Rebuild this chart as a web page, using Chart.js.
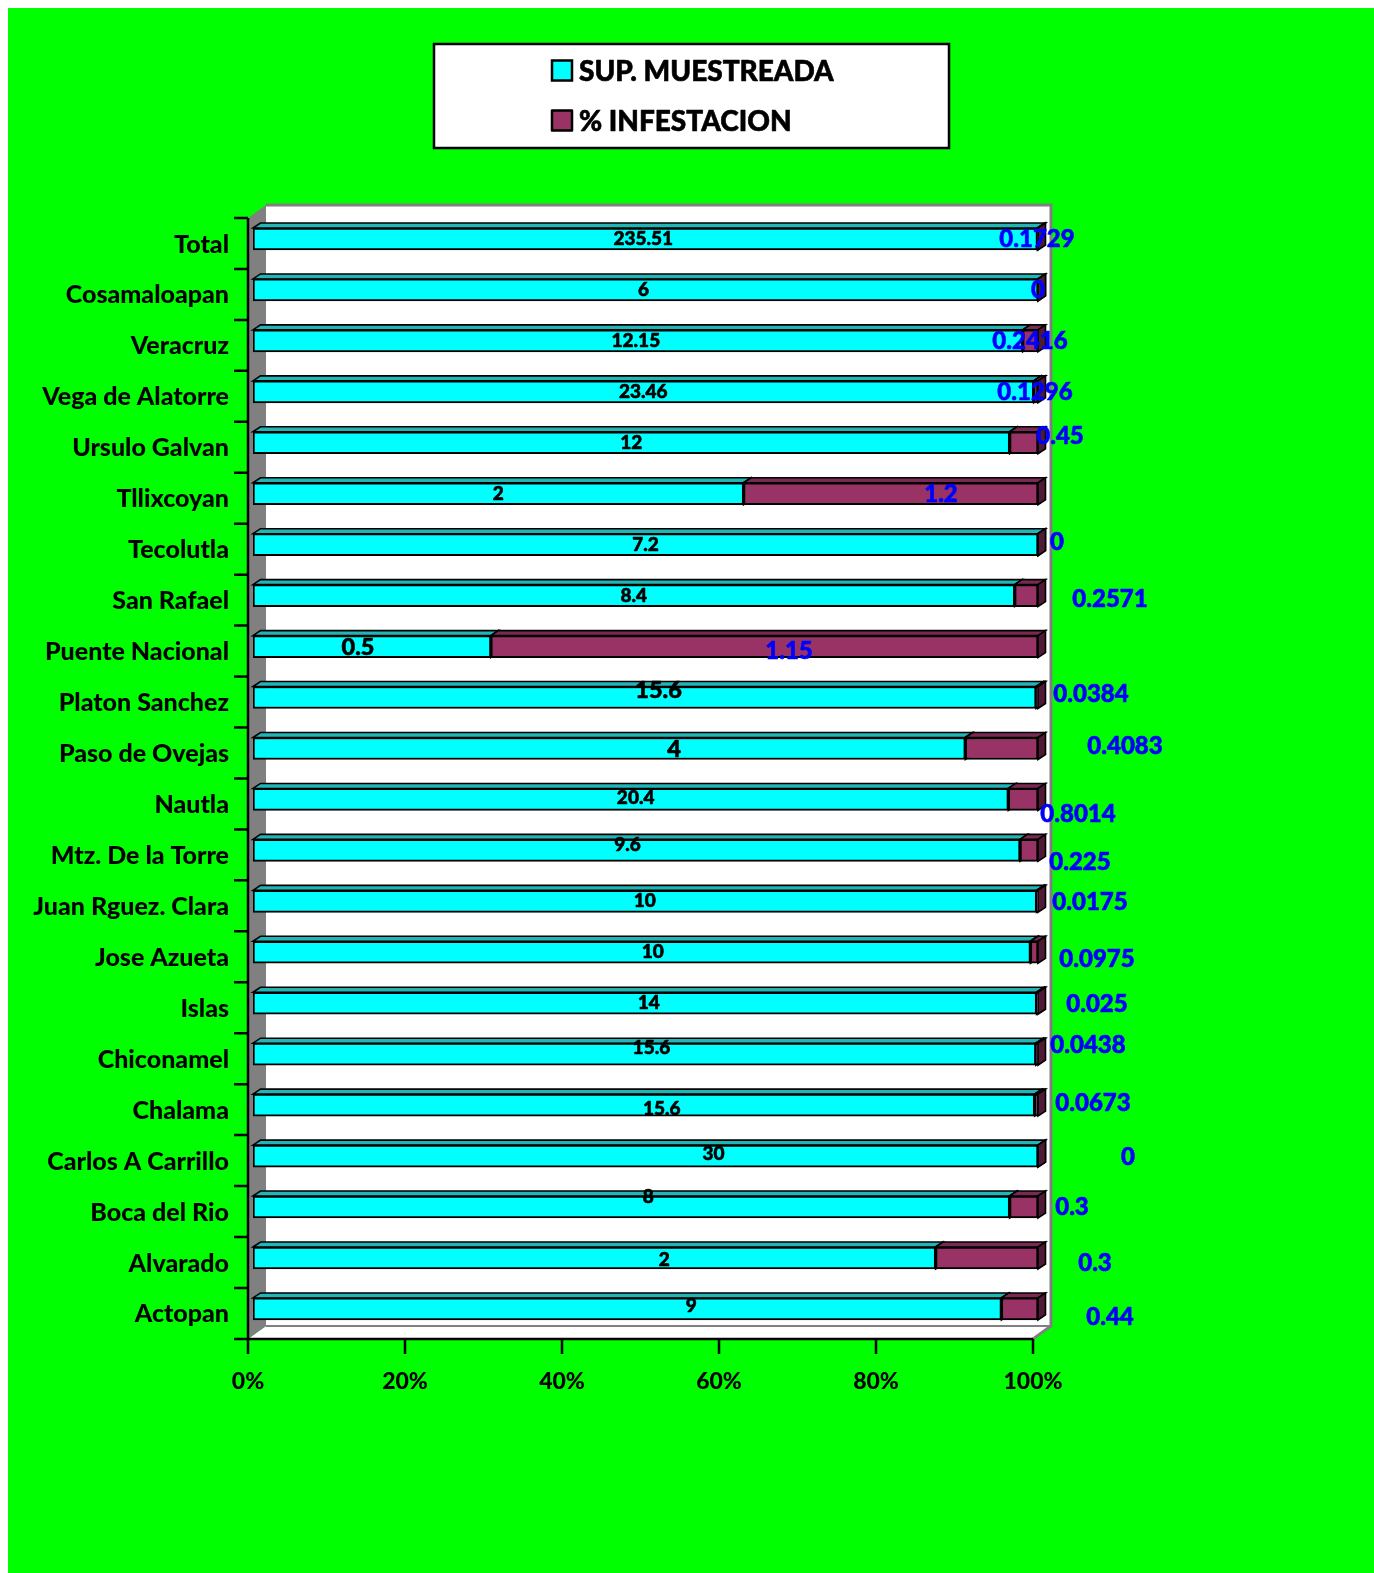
<!DOCTYPE html>
<html>
<head>
<meta charset="utf-8">
<script src="https://cdn.jsdelivr.net/npm/chart.js@4.4.1/dist/chart.umd.min.js"></script>
<style>
  html, body { margin: 0; padding: 0; background: #ffffff; }
  #wrap { width: 1374px; height: 1573px; }
</style>
</head>
<body>
<div id="wrap"><canvas id="c" width="1374" height="1573"></canvas></div>
<script>
// ---------- DATA ----------
const categories = ['Total','Cosamaloapan','Veracruz','Vega de Alatorre','Ursulo Galvan','Tllixcoyan','Tecolutla','San Rafael','Puente Nacional','Platon Sanchez','Paso de Ovejas','Nautla','Mtz. De la Torre','Juan Rguez. Clara','Jose Azueta','Islas','Chiconamel','Chalama','Carlos A Carrillo','Boca del Rio','Alvarado','Actopan'];
const supMuestreada = [235.51, 6, 12.15, 23.46, 12, 2, 7.2, 8.4, 0.5, 15.6, 4, 20.4, 9.6, 10, 10, 14, 15.6, 15.6, 30, 8, 2, 9];
const infestacion = [0.1729, 0, 0.2416, 0.1296, 0.45, 1.2, 0, 0.2571, 1.15, 0.0384, 0.4083, 0.8014, 0.225, 0.0175, 0.0975, 0.025, 0.0438, 0.0673, 0, 0.3, 0.3, 0.44];
const seriesNames = ['SUP. MUESTREADA', '% INFESTACION'];
const xTickLabels = ['0%','20%','40%','60%','80%','100%'];

// hand-placed label nudges of the original (dx, dy in px) - styling only
const supLabelNudge = [[-2,0],[-2,0],[-2,0],[0,0],[0,0],[0,0],[0,0],[0,0],[-14,1],[14,-7],[65,1],[5,-2],[-9,-6],[0,0],[11,0],[4,0],[7,-6],[18,4],[68,-2],[17,-10],[70,2],[64,-3]];
const supLabelBig = [false,false,false,false,false,false,false,false,true,true,true,false,false,false,false,false,false,false,false,false,false,false];
const infLabelNudge = [[-1,0],[0,0],[-8,0],[-3,0],[22,-7],[-97,1],[19,-2],[72,4],[-249,5],[53,-3],[87,-2],[40,15],[42,12],[52,1],[59,7],[59,1],[50,-9],[55,-2],[90,1],[34,0],[57,5],[72,8]];

// 100% stacked table built from the series
const totals = supMuestreada.map((v, i) => v + infestacion[i]);
const supPct = supMuestreada.map((v, i) => v / totals[i] * 100);
const infPct = infestacion.map((v, i) => v / totals[i] * 100);

// ---------- STYLE ----------
const W = 1374, H = 1573;
const FONT = 'Lato, Carlito, Calibri, "Open Sans", sans-serif';
const WEIGHT = '900';
const frontColors = ['#00FFFF', '#993366'];
const topColors = ['#22B5B5', '#7A2A52'];
const sideColors = ['#00A3A3', '#4F1A35'];
const BAR_DX = 7.5, BAR_DY = -5;      // bar depth
const WALL_DX = 18, WALL_DY = -13;    // box depth
const AXIS_SHIFT = -5;                // floor front edge relative to bar fronts
const LABEL_SHIFT = 4.5;              // category band vs bar front centre

function poly(ctx, pts, fill, stroke, lw) {
  ctx.beginPath();
  ctx.moveTo(pts[0][0], pts[0][1]);
  for (let k = 1; k < pts.length; k++) ctx.lineTo(pts[k][0], pts[k][1]);
  ctx.closePath();
  if (fill) { ctx.fillStyle = fill; ctx.fill(); }
  if (stroke) { ctx.strokeStyle = stroke; ctx.lineWidth = lw || 1; ctx.lineJoin = 'miter'; ctx.stroke(); }
}

function geometry(chart) {
  const xs = chart.scales.x, ys = chart.scales.y;
  const band = ys.getPixelForValue(1) - ys.getPixelForValue(0);
  const x0 = xs.getPixelForValue(0) + AXIS_SHIFT;
  const x100 = xs.getPixelForValue(100) + AXIS_SHIFT;
  const yTop = ys.getPixelForValue(0) + LABEL_SHIFT - band / 2;
  const yBot = ys.getPixelForValue(categories.length - 1) + LABEL_SHIFT + band / 2;
  return { xs, ys, band, x0, x100, yTop, yBot };
}

function boldText(ctx, txt, x, y, color) {
  ctx.fillStyle = color;
  ctx.strokeStyle = color;
  ctx.lineWidth = 0.6;
  ctx.lineJoin = 'round';
  ctx.fillText(txt, x, y);
  ctx.strokeText(txt, x, y);
}

const boxPlugin = {
  id: 'box3d',
  beforeDraw(chart) {
    const ctx = chart.ctx;
    const g = geometry(chart);
    ctx.save();
    ctx.fillStyle = '#FFFFFF';
    ctx.fillRect(0, 0, W, H);
    ctx.fillStyle = '#00FF00';
    ctx.fillRect(8, 8, W - 8, H - 8);

    // back wall
    const bl = g.x0 + WALL_DX, br = g.x100 + WALL_DX, bt = g.yTop + WALL_DY, bb = g.yBot + WALL_DY;
    ctx.fillStyle = '#FFFFFF';
    ctx.fillRect(bl, bt, br - bl, bb - bt);
    // floor
    poly(ctx, [[g.x0, g.yBot], [bl, bb], [br, bb], [g.x100, g.yBot]], '#FFFFFF');
    // left wall
    poly(ctx, [[g.x0, g.yTop], [bl, bt], [bl, bb], [g.x0, g.yBot]], '#808080');
    // gray edges
    ctx.strokeStyle = '#808080';
    ctx.lineWidth = 3;
    ctx.beginPath();
    ctx.moveTo(bl, bt); ctx.lineTo(br, bt); ctx.lineTo(br, bb); ctx.lineTo(g.x100, g.yBot);
    ctx.stroke();
    ctx.lineWidth = 2;
    ctx.beginPath();
    ctx.moveTo(bl, bb); ctx.lineTo(br, bb);
    ctx.stroke();
    ctx.restore();

    // legend
    ctx.save();
    const lx = 434, ly = 44, lw = 515, lh = 104;
    ctx.fillStyle = '#FFFFFF';
    ctx.fillRect(lx, ly, lw, lh);
    ctx.strokeStyle = '#000000';
    ctx.lineWidth = 2.5;
    ctx.strokeRect(lx, ly, lw, lh);
    ctx.font = WEIGHT + ' 28px ' + FONT;
    ctx.textBaseline = 'middle';
    ctx.textAlign = 'left';
    const rows = [70.5, 120.5];
    for (let d = 0; d < 2; d++) {
      ctx.fillStyle = frontColors[d];
      ctx.fillRect(552, rows[d] - 10, 20, 20);
      ctx.strokeStyle = '#000000';
      ctx.lineWidth = 2.5;
      ctx.strokeRect(552, rows[d] - 10, 20, 20);
      boldText(ctx, seriesNames[d], 579, rows[d] + 1, '#000000');
    }
    ctx.restore();
  },
  beforeDatasetsDraw(chart) {
    const ctx = chart.ctx;
    ctx.save();
    for (let i = 0; i < categories.length; i++) {
      for (let d = 0; d < 2; d++) {
        const el = chart.getDatasetMeta(d).data[i];
        const p = el.getProps(['x', 'y', 'base', 'height'], true);
        const xa = Math.min(p.x, p.base), xb = Math.max(p.x, p.base);
        const top = p.y - p.height / 2, bot = p.y + p.height / 2;
        poly(ctx, [[xa, top], [xa + BAR_DX, top + BAR_DY], [xb + BAR_DX, top + BAR_DY], [xb, top]], topColors[d], '#000', 1.6);
        poly(ctx, [[xb, top], [xb + BAR_DX, top + BAR_DY], [xb + BAR_DX, bot + BAR_DY], [xb, bot]], sideColors[d], '#000', 1.6);
      }
    }
    ctx.restore();
  },
  afterDatasetsDraw(chart) {
    const ctx = chart.ctx;
    const g = geometry(chart);
    ctx.save();
    ctx.textAlign = 'center';
    ctx.textBaseline = 'middle';
    for (let i = 0; i < categories.length; i++) {
      const e0 = chart.getDatasetMeta(0).data[i].getProps(['x', 'y', 'base'], true);
      const cx = (e0.x + e0.base) / 2;
      ctx.font = WEIGHT + ' ' + (supLabelBig[i] ? 23.5 : 19) + 'px ' + FONT;
      boldText(ctx, String(supMuestreada[i]), cx + supLabelNudge[i][0], e0.y + supLabelNudge[i][1], '#000000');
      const endX = g.xs.getPixelForValue(100);
      ctx.font = WEIGHT + ' 24px ' + FONT;
      boldText(ctx, String(infestacion[i]), endX + infLabelNudge[i][0], e0.y + infLabelNudge[i][1], '#0000FF');
    }
    ctx.restore();
  },
  afterDraw(chart) {
    const ctx = chart.ctx;
    const g = geometry(chart);
    ctx.save();
    ctx.strokeStyle = '#000000';
    ctx.lineWidth = 2.5;
    ctx.lineCap = 'butt';
    ctx.beginPath();
    // y axis
    ctx.moveTo(g.x0, g.yTop); ctx.lineTo(g.x0, g.yBot + 1);
    for (let k = 0; k <= categories.length; k++) {
      const y = g.yTop + k * g.band;
      ctx.moveTo(g.x0 - 14, y); ctx.lineTo(g.x0, y);
    }
    // x axis
    ctx.moveTo(g.x0 - 14, g.yBot); ctx.lineTo(g.x100, g.yBot);
    for (let k = 0; k < xTickLabels.length; k++) {
      const x = g.xs.getPixelForValue(k * 20) + AXIS_SHIFT;
      ctx.moveTo(x, g.yBot); ctx.lineTo(x, g.yBot + 15);
    }
    ctx.stroke();
    ctx.restore();
  }
};

function build() {
  const chart = new Chart(document.getElementById('c'), {
    type: 'bar',
    data: {
      labels: categories,
      datasets: [
        { label: seriesNames[0], data: supPct, backgroundColor: frontColors[0], borderColor: '#000', borderWidth: 2, borderSkipped: false, barThickness: 22 },
        { label: seriesNames[1], data: infPct, backgroundColor: frontColors[1], borderColor: '#000', borderWidth: 2, borderSkipped: false, barThickness: 22 }
      ]
    },
    options: {
      responsive: false,
      animation: false,
      indexAxis: 'y',
      layout: { padding: { top: 213.5, right: 336, left: 0, bottom: 0 } },
      plugins: { legend: { display: false }, tooltip: { enabled: false } },
      scales: {
        x: {
          stacked: true, min: 0, max: 100,
          grid: { display: false, drawTicks: false }, border: { display: false },
          ticks: {
            stepSize: 20, autoSkip: false, maxRotation: 0,
            callback: (v) => xTickLabels[Math.round(v / 20)],
            font: { family: FONT, weight: WEIGHT, size: 23 }, color: '#000',
            padding: 33, labelOffset: AXIS_SHIFT
          },
          afterFit(s) { s.height = H - 1334.4; }
        },
        y: {
          stacked: true,
          grid: { display: false, drawTicks: false }, border: { display: false },
          ticks: {
            autoSkip: false,
            font: { family: FONT, weight: WEIGHT, size: 25 }, color: '#000',
            padding: 24, labelOffset: 5.5
          },
          afterFit(s) { s.width = 253; }
        }
      }
    },
    plugins: [boxPlugin]
  });
}

const fontLoads = [document.fonts.load(WEIGHT + ' 22px Lato'), document.fonts.load('bold 22px Lato')];
Promise.all(fontLoads).then(build, build);
</script>
</body>
</html>
